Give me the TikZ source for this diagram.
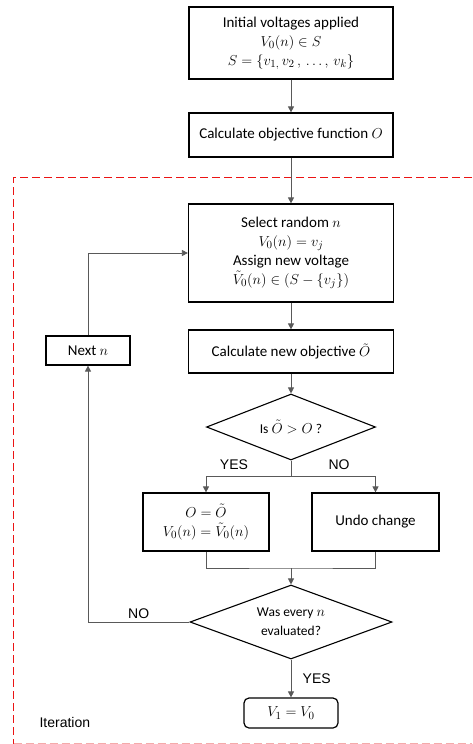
\documentclass[tikz,border=0pt]{standalone}
\usepackage[no-math]{fontspec}
\usepackage{amsmath}
\setmainfont{Carlito}
\newfontfamily\arialfont{Liberation Sans}
\usetikzlibrary{shapes.geometric,arrows.meta}
\definecolor{iterred}{RGB}{235,20,20}
\definecolor{iterpink}{RGB}{245,170,170}

\begin{document}
\begin{tikzpicture}[x=1pt,y=-1pt,
    box/.style={draw,line width=1.2pt,align=center,inner sep=2pt,font=\fontsize{15}{19}\selectfont},
    decision/.style={draw,diamond,line width=1.1pt,align=center,inner sep=0pt,shape aspect=2.6,font=\fontsize{13.5}{19}\selectfont},
    conn/.style={draw=black!65,line width=0.8pt,-{Triangle[width=6pt,length=6pt]}},
    link/.style={draw=black!65,line width=0.8pt},
    yesno/.style={font=\arialfont\fontsize{14}{16}\selectfont},
    loopbox/.style={draw=iterred,line width=1.4pt,dash pattern=on 8pt off 4pt}]
    \useasboundingbox (0,0) rectangle (472,744);
    \draw[loopbox] (472,177.5) -| (13.5,743.5);
    \draw[loopbox,draw=iterpink] (13.5,743.5) -- (472,743.5);
    \node[box,minimum width=204pt,minimum height=72pt] (init) at (291,43) {Initial voltages applied\\ $V_0(n)\in S$\\ $S=\left\{v_{1,}\, v_2\,, \,\ldots, \,v_k\right\}$};
    \node[box,minimum width=204pt,minimum height=44pt] (objf) at (291,135) {Calculate objective function $O$};
    \node[box,minimum width=205pt,minimum height=98pt] (select) at (291,253) {Select random $n$\\ $V_0(n)=v_j$\\ Assign new voltage\\ $\tilde{V}_0(n)\in\left(S-\{v_j\}\right)$};
    \node[box,minimum width=205pt,minimum height=43pt] (newobj) at (291,351.5) {Calculate new objective $\tilde{O}$};
    \node[box,minimum width=84pt,minimum height=29pt] (next) at (88,350.5) {Next $n$};
    \node[decision,minimum width=169pt,minimum height=66pt] (better) at (291,427) {Is $\tilde{O}>O$ ?};
    \coordinate (split) at (291,476);
    \node[box,minimum width=126pt,minimum height=58pt] (accept) at (206,522) {$O=\tilde{O}$\\ $V_0(n)=\tilde{V}_0(n)$};
    \node[box,minimum width=127pt,minimum height=58pt] (undo) at (375.5,522) {Undo change};
    \coordinate (merge) at (291,568);
    \node[decision,minimum width=202pt,minimum height=74pt] (every) at (291,622) {Was every $n$\\ evaluated?};
    \node[box,rounded corners=5pt,minimum width=94pt,minimum height=30pt] (final) at (291,713) {$V_1=V_0$};
    \node[yesno] (yes1) at (234,465) {YES};
    \node[yesno] (no1) at (339,465) {NO};
    \node[yesno,anchor=west] (iter) at (36,722) {Iteration};
    \draw[conn] (init) -- (objf);
    \draw[conn] (objf) -- (select);
    \draw[conn] (select) -- (newobj);
    \draw[conn] (newobj) -- (better);
    \draw[link] (better.south) -- (split);
    \draw[conn] (split) -| (accept);
    \draw[conn] (split) -| (undo);
    \draw[link] (accept) |- (merge) -| (undo);
    \draw[conn] (merge) -- (every);
    \draw[conn] (every.west) -| node[yesno,pos=0.25,above] (no2) {NO} (next);
    \draw[conn] (next) |- (select.west);
    \draw[conn] (every) -- node[yesno,right,xshift=8pt] (yes2) {YES} (final);
\end{tikzpicture}
\end{document}
